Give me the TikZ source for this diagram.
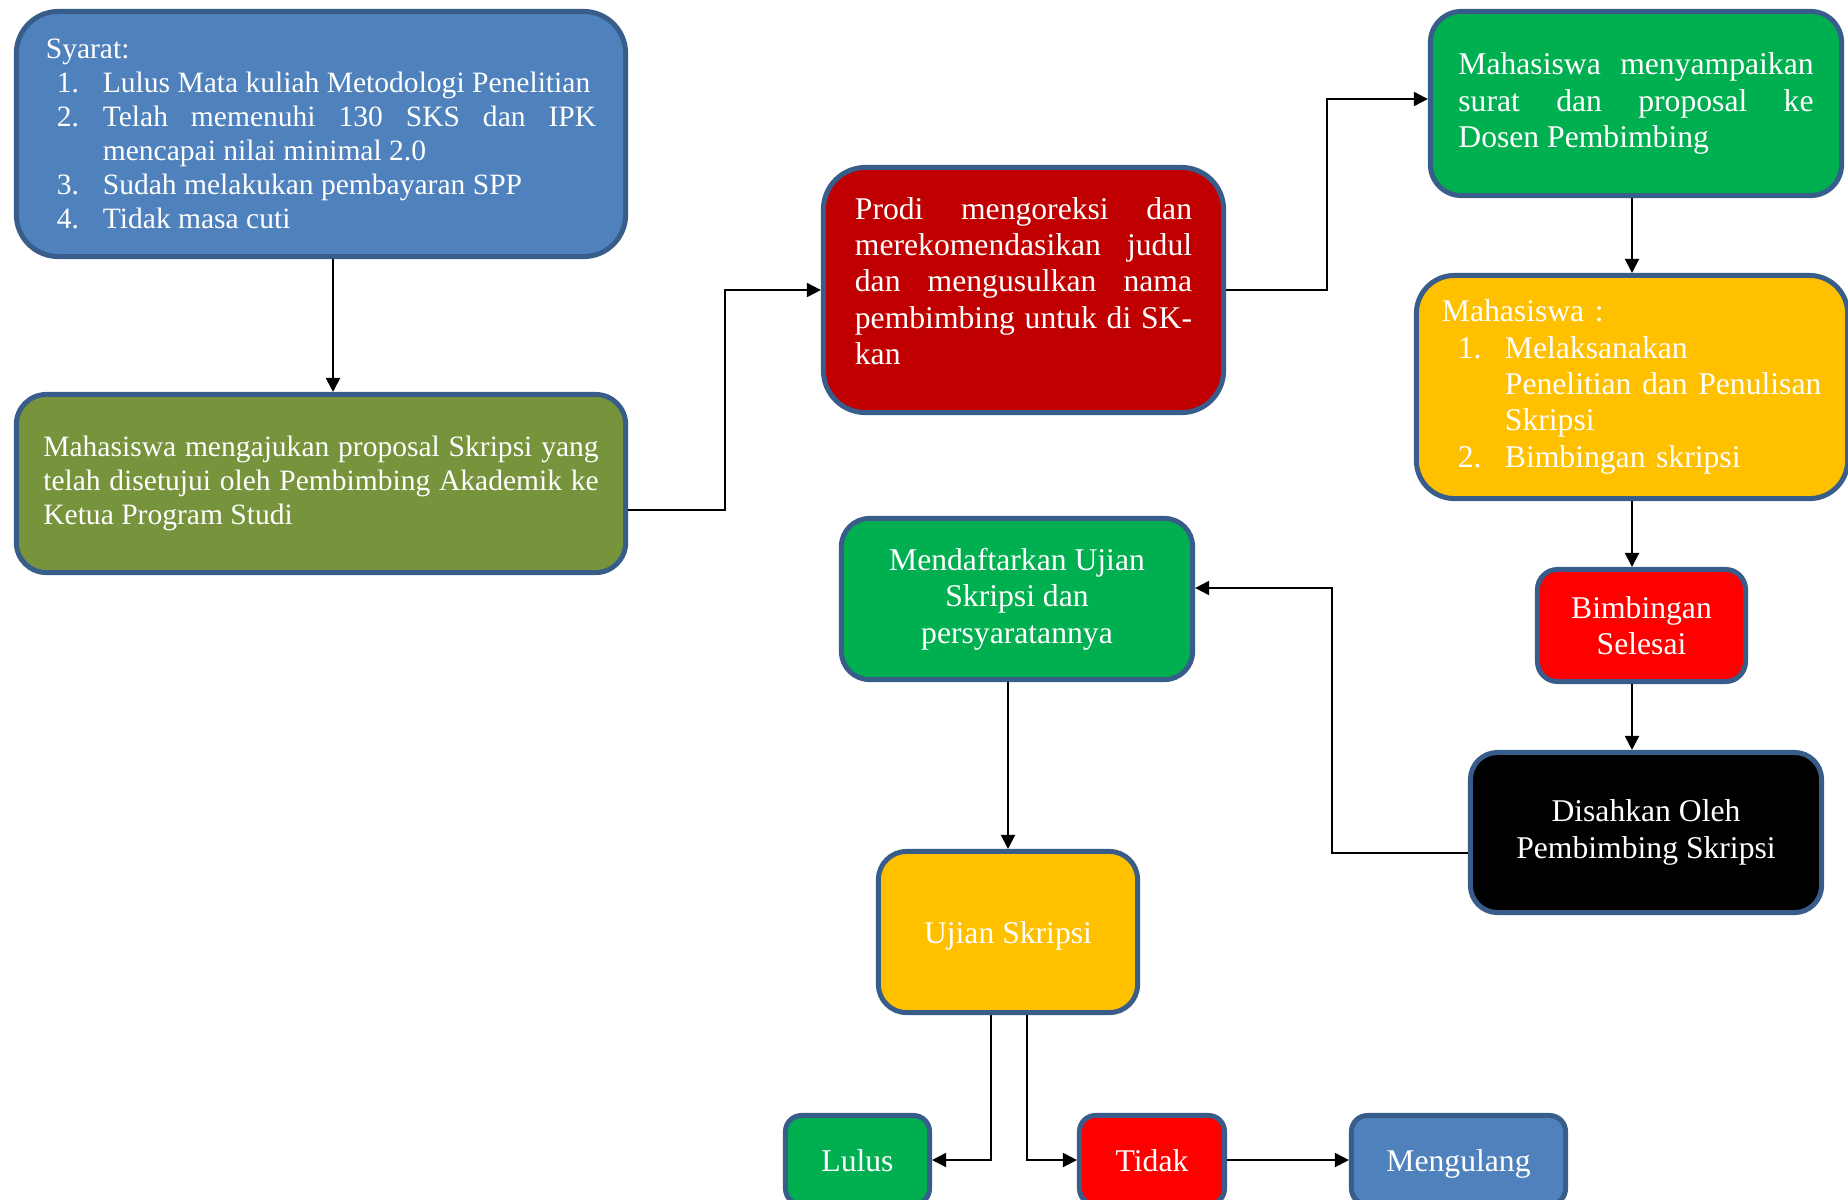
\documentclass[tikz,border=0pt]{standalone}
\usepackage{fontspec}
\setmainfont{Liberation Serif}
\usetikzlibrary{arrows.meta,calc}
\setlength{\parindent}{0pt}
\definecolor{biru}{HTML}{4F81BD}
\definecolor{garis}{HTML}{385D8A}
\definecolor{zaitun}{HTML}{77933C}
\definecolor{merahtua}{HTML}{C00000}
\definecolor{hijau}{HTML}{00B050}
\definecolor{emas}{HTML}{FFC000}
\definecolor{merah}{HTML}{FF0000}
\newcommand{\butir}[3]{\par\noindent\hangindent=#2\hangafter=1\hspace*{#1}\makebox[\dimexpr#2-#1\relax][l]{#3}}
\tikzset{
  kotak/.style={draw=garis, line width=0.05cm, text=white, inner sep=0pt, rounded corners=#1},
  kotak/.default=0.28cm,
  besar/.style={font=\fontsize{9}{10.35}\selectfont},
  kecil/.style={font=\fontsize{8.4}{9.66}\selectfont},
  link/.style={draw=black, line width=0.02cm, -{Triangle[length=0.14cm,width=0.14cm]}}
}

\begin{document}
\begin{tikzpicture}[x=0.01cm,y=-0.01cm]
\useasboundingbox (0,0) rectangle (1848,1199);
\node[kotak=0.42cm, fill=biru, kecil, minimum width=6.09cm, minimum height=2.45cm, text width=5.5cm, align=justify] (syarat) at (321,134) {Syarat:
\butir{0.11cm}{0.57cm}{1.}Lulus Mata kuliah Metodologi Penelitian
\butir{0.11cm}{0.57cm}{2.}Telah memenuhi 130 SKS dan IPK\linebreak mencapai nilai minimal 2.0
\butir{0.11cm}{0.57cm}{3.}Sudah melakukan pembayaran SPP
\butir{0.11cm}{0.57cm}{4.}Tidak masa cuti}; % syarat
\node[kotak=0.3cm, fill=zaitun, kecil, minimum width=6.09cm, minimum height=1.78cm, text width=5.55cm, align=justify] (ajukan) at (321,483.5) {Mahasiswa mengajukan proposal Skripsi yang\linebreak telah disetujui oleh Pembimbing Akademik ke\linebreak Ketua Program Studi}; % proposal
\node[kotak=0.42cm, fill=merahtua, besar, minimum width=4.0cm, minimum height=2.45cm, text width=3.37cm, align=justify] (prodi) at (1023.5,290) {Prodi mengoreksi dan\linebreak merekomendasikan judul\linebreak dan mengusulkan nama\linebreak pembimbing untuk di SK-\linebreak kan\par\vspace*{0.18cm}}; % prodi
\node[kotak=0.31cm, fill=hijau, besar, minimum width=4.11cm, minimum height=1.84cm, text width=3.55cm, align=justify] (sampai) at (1636,103.5) {Mahasiswa menyampaikan\linebreak surat dan proposal ke\linebreak Dosen Pembimbing}; % ke dosen
\node[kotak=0.38cm, fill=emas, besar, minimum width=4.31cm, minimum height=2.23cm, text width=3.8cm, align=left] (laksana) at (1632,387) {Mahasiswa :
\butir{0.16cm}{0.63cm}{1.}Melaksanakan\linebreak Penelitian dan Penulisan\linebreak Skripsi
\butir{0.16cm}{0.63cm}{2.}Bimbingan skripsi}; % penelitian
\node[kotak=0.2cm, fill=merah, besar, minimum width=2.08cm, minimum height=1.12cm, align=center] (selesai) at (1641.5,625.5) {Bimbingan\\ Selesai}; % selesai
\node[kotak=0.27cm, fill=black, besar, minimum width=3.51cm, minimum height=1.6cm, align=center] (sah) at (1646,832.5) {Disahkan Oleh\\ Pembimbing Skripsi}; % disahkan
\node[kotak=0.28cm, fill=hijau, besar, minimum width=3.51cm, minimum height=1.61cm, align=center] (daftar) at (1017,599) {Mendaftarkan Ujian\\ Skripsi dan\\ persyaratannya}; % daftar ujian
\node[kotak=0.28cm, fill=emas, besar, text depth=0pt, minimum width=2.59cm, minimum height=1.61cm] (ujian) at (1008,932) {Ujian Skripsi}; % ujian
\node[kotak=0.16cm, fill=hijau, besar, text depth=0pt, minimum width=1.44cm, minimum height=0.89cm] (lulus) at (857.5,1160) {Lulus}; % lulus
\node[kotak=0.16cm, fill=merah, besar, text depth=0pt, minimum width=1.45cm, minimum height=0.89cm] (tidak) at (1152,1160) {Tidak}; % tidak
\node[kotak=0.16cm, fill=biru, besar, text depth=0pt, minimum width=2.14cm, minimum height=0.89cm] (ulang) at (1458.5,1160) {Mengulang}; % mengulang
\draw[link] ([xshift=0.12cm]syarat.south) -- ([xshift=0.12cm]ajukan.north); % Wiring
\draw[link] ([yshift=-0.265cm]ajukan.east) -| ($(ajukan.east)!0.5!(prodi.west)$) |- (prodi.west); % Wiring
\draw[link] (prodi.east) -| ($(prodi.east)!0.5!(sampai.west)$) |- ([yshift=0.045cm]sampai.west); % Wiring
\draw[link] (sampai.south -| laksana.north) -- (laksana.north); % Wiring
\draw[link] (laksana.south) -- (laksana.south |- selesai.north); % Wiring
\draw[link] (laksana.south |- selesai.south) -- (laksana.south |- sah.north); % Wiring
\draw[link] ([yshift=-0.205cm]sah.west) -| ($(sah.west)!0.5!(daftar.east)$) |- ([yshift=0.11cm]daftar.east); % Wiring
\draw[link] (ujian.north |- daftar.south) -- (ujian.north); % Wiring
\draw[link] ([xshift=-0.17cm]ujian.south) |- (lulus.east); % Wiring
\draw[link] ([xshift=0.19cm]ujian.south) |- (tidak.west); % Wiring
\draw[link] (tidak.east) -- (ulang.west); % Wiring
\end{tikzpicture}
\end{document}
